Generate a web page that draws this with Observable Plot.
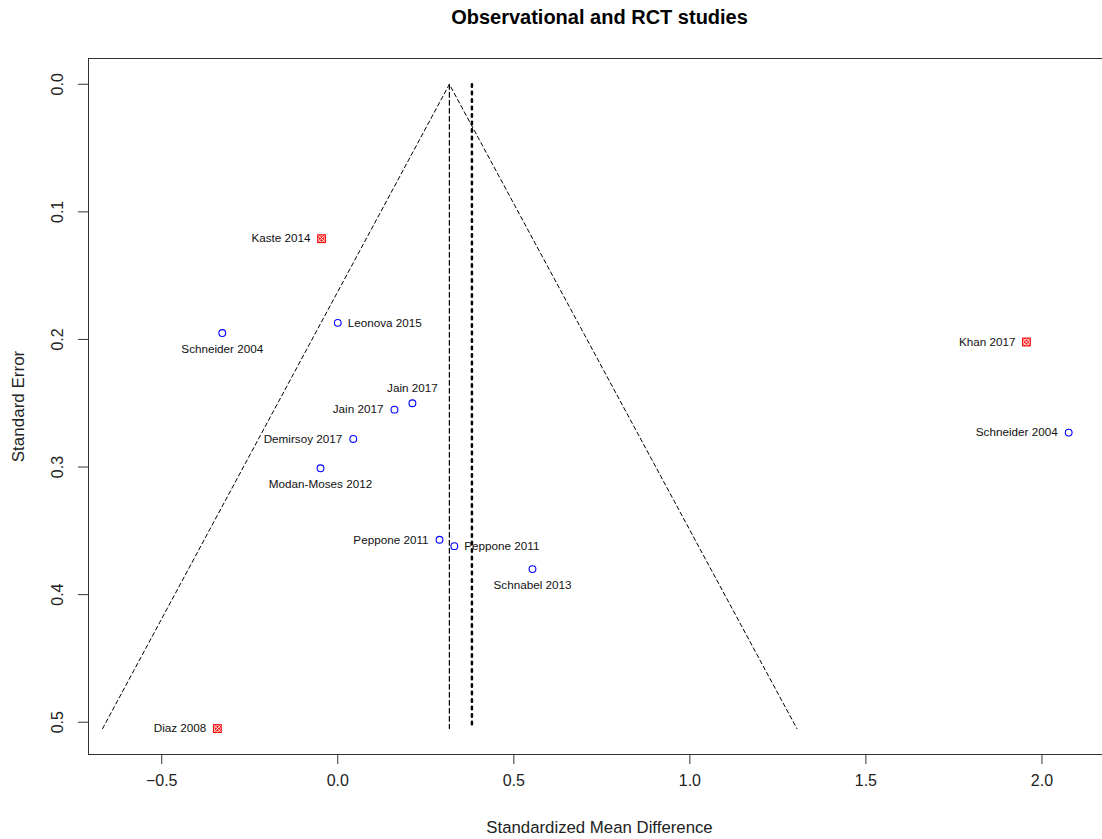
<!DOCTYPE html>
<html>
<head>
<meta charset="utf-8">
<script src="https://cdn.jsdelivr.net/npm/d3@7"></script>
<script src="https://cdn.jsdelivr.net/npm/@observablehq/plot@0.6"></script>
<style>
  html, body { margin: 0; padding: 0; background: #fff; }
  svg { display: block; }
</style>
</head>
<body>
<div id="chart"></div>
<script>
// Study data
const studies = ["Kaste 2014", "Leonova 2015", "Schneider 2004", "Khan 2017", "Jain 2017", "Jain 2017",
  "Demirsoy 2017", "Schneider 2004", "Modan-Moses 2012", "Peppone 2011", "Peppone 2011", "Schnabel 2013", "Diaz 2008"];
const smd = [-0.046, 0.0, -0.328, 1.956, 0.212, 0.161, 0.044, 2.076, -0.049, 0.289, 0.331, 0.553, -0.342];
const se = [0.121, 0.187, 0.195, 0.202, 0.250, 0.255, 0.278, 0.273, 0.301, 0.357, 0.362, 0.380, 0.505];
const design = ["RCT", "Obs", "Obs", "RCT", "Obs", "Obs", "Obs", "Obs", "Obs", "Obs", "Obs", "Obs", "RCT"];
const labelPos = ["left", "right", "below", "left", "above", "left", "left", "left", "below", "left", "right", "below", "left"];

// Funnel outline and reference lines
const funnelX = [-0.668, 0.317, 1.304];
const funnelY = [0.505, 0.0, 0.505];
const fixedEffect = 0.317;
const randomEffect = 0.381;
const refLineSE = [0.0, 0.505];

const xTicks = [-0.5, 0.0, 0.5, 1.0, 1.5, 2.0];
const yTicks = [0.0, 0.1, 0.2, 0.3, 0.4, 0.5];

const data = studies.map((s, i) => ({study: s, x: smd[i], y: se[i], design: design[i], pos: labelPos[i]}));
const funnel = funnelX.map((x, i) => ({x, y: funnelY[i]}));
const refLines = refLineSE.map(y => ({x: fixedEffect, y}));
const refLines2 = refLineSE.map(y => ({x: randomEffect, y}));

const W = 1102, H = 839;
const font = "Liberation Sans, Arial, Helvetica, sans-serif";

const byPos = p => data.filter(d => d.pos === p);

const chart = Plot.plot({
  width: W,
  height: H,
  marginLeft: 88,
  marginTop: 58,
  marginRight: 0,
  marginBottom: 85,
  style: {fontFamily: font, background: "#fff", color: "#000"},
  x: {domain: [-0.708, 2.172]},
  y: {domain: [-0.0202, 0.5253], reverse: true},
  marks: [
    // frame (top, left, bottom)
    Plot.frame({anchor: "top", stroke: "#333"}),
    Plot.frame({anchor: "left", stroke: "#333"}),
    Plot.frame({anchor: "bottom", stroke: "#333"}),
    // x axis
    Plot.axisX({ticks: xTicks, tickFormat: d3.format(".1f"), tickSize: 10, tickPadding: 10, fontSize: 16, stroke: "#333", fill: "#222", label: null}),
    // y axis ticks
    Plot.axisY({ticks: yTicks, tickFormat: () => "", tickSize: 10, stroke: "#333", label: null}),
    Plot.text(yTicks, {y: d => d, text: d => d3.format(".1f")(d), frameAnchor: "left", textAnchor: "middle", lineAnchor: "middle", dx: -31, rotate: -90, fontSize: 16, fill: "#222"}),
    // funnel
    Plot.line(funnel, {x: "x", y: "y", stroke: "#000", strokeWidth: 1, strokeDasharray: "4,3"}),
    Plot.line(refLines, {x: "x", y: "y", stroke: "#000", strokeWidth: 1.2, strokeDasharray: "5,3"}),
    Plot.line(refLines2, {x: "x", y: "y", stroke: "#000", strokeWidth: 2.5, strokeDasharray: "2.5,5"}),
    // observational: blue open circles
    Plot.dot(data.filter(d => d.design === "Obs"), {x: "x", y: "y", r: 3.4, stroke: "#0000ff", strokeWidth: 1.1, fill: "none"}),
    // RCT: red squares with white circle-x
    Plot.dot(data.filter(d => d.design === "RCT"), {x: "x", y: "y", symbol: "square", r: 5, fill: "#ff0000", stroke: "none"}),
    Plot.dot(data.filter(d => d.design === "RCT"), {x: "x", y: "y", r: 3, stroke: "#fff", strokeWidth: 0.9, fill: "none"}),
    Plot.dot(data.filter(d => d.design === "RCT"), {x: "x", y: "y", symbol: "times", r: 3.2, stroke: "#fff", strokeWidth: 0.9}),
    // labels
    Plot.text(byPos("left"), {x: "x", y: "y", text: "study", textAnchor: "end", dx: -11, fontSize: 11.7, fill: "#111"}),
    Plot.text(byPos("right"), {x: "x", y: "y", text: "study", textAnchor: "start", dx: 10, fontSize: 11.7, fill: "#111"}),
    Plot.text(byPos("below"), {x: "x", y: "y", text: "study", dy: 16, fontSize: 11.7, fill: "#111"}),
    Plot.text(byPos("above"), {x: "x", y: "y", text: "study", dy: -15, fontSize: 11.7, fill: "#111"}),
    // titles
    Plot.text(["Observational and RCT studies"], {frameAnchor: "top", lineAnchor: "middle", dy: -41, dx: 4, fontSize: 20, fontWeight: "bold", fill: "#000"}),
    Plot.text(["Standardized Mean Difference"], {frameAnchor: "bottom", lineAnchor: "middle", dy: 73, dx: 4, fontSize: 16.8, fill: "#222"}),
    Plot.text(["Standard Error"], {frameAnchor: "left", textAnchor: "middle", lineAnchor: "middle", dx: -70, rotate: -90, fontSize: 17, fill: "#222"})
  ]
});

document.getElementById("chart").appendChild(chart);
</script>
</body>
</html>
